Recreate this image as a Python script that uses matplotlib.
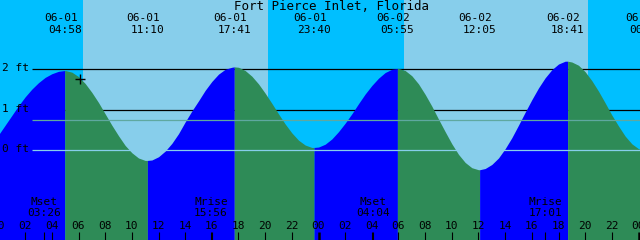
import numpy as np
import matplotlib.pyplot as plt

title = 'Fort Pierce Inlet, Florida'

# high / low tides
event_dates = ['06-01', '06-01', '06-01', '06-01', '06-02', '06-02', '06-02', '06-03']
event_times = ['04:58', '11:10', '17:41', '23:40', '05:55', '12:05', '18:41', '00:34']
event_ft = [1.97, -0.25, 2.06, 0.07, 2.02, -0.48, 2.20, -0.01]

# water level every half hour, from 06-01 00:00
level_series_ft = [
    0.38, 0.62, 0.86, 1.10, 1.32, 1.51, 1.67, 1.80, 1.89, 1.95,
    1.97, 1.93, 1.82, 1.65, 1.43, 1.18, 0.90, 0.62, 0.36, 0.12,
    -0.06, -0.19, -0.25, -0.24, -0.16, -0.02, 0.17, 0.41, 0.70, 0.97,
    1.22, 1.48, 1.70, 1.88, 2.00, 2.05,
    2.05, 1.97, 1.83, 1.64, 1.41, 1.16, 0.90, 0.65, 0.43, 0.25,
    0.13, 0.07, 0.08, 0.15, 0.28, 0.46, 0.67, 0.90, 1.15, 1.39,
    1.60, 1.78, 1.92, 2.00, 2.02, 1.97, 1.84, 1.64, 1.38, 1.09,
    0.77, 0.46, 0.16, -0.10, -0.30, -0.43, -0.48, -0.45, -0.35, -0.19,
    0.04, 0.31, 0.62, 0.94, 1.25, 1.54, 1.79, 1.99, 2.13, 2.20,
    2.18, 2.10, 1.94, 1.72, 1.46, 1.17, 0.87, 0.60, 0.35, 0.16,
    0.04, -0.01]

moon_names = ['Mset', 'Mrise', 'Mset', 'Mrise']
moon_dates = ['06-01', '06-01', '06-02', '06-02']
moon_times = ['03:26', '15:56', '04:04', '17:01']

sunrise = [('06-01', '06:22'), ('06-02', '06:23')]
sunset = [('06-01', '20:14'), ('06-02', '20:14')]

level_ft = [2, 1, 0]
level_labels = ['2 ft', '1 ft', '0 ft']
mean_ft = 0.74

now_time = ('06-01', '06:07')
now_ft = 1.76

NIGHT = '#00BFFF'
DAY = '#87CEEB'
RISE = '#0000FF'
FALL = '#2E8B57'
FONT = 'DejaVu Sans Mono'


def to_hours(d, t):
    hh, mm = t.split(':')
    return (int(d[3:]) - 1) * 24 + int(hh) + int(mm) / 60


x0, x1 = 0.1125, 48.1125
px = (x1 - x0) / 640  # hours per pixel

fig = plt.figure(figsize=(6.4, 2.4), dpi=100, facecolor=NIGHT)
ax = fig.add_axes([0, 0, 1, 1])
ax.axis('off')
ax.set_xlim(x0, x1)
ax.set_ylim(-2.215, 3.711)

# daylight
for (d1, t1), (d2, t2) in zip(sunrise, sunset):
    ax.axvspan(to_hours(d1, t1), to_hours(d2, t2), color=DAY, lw=0, zorder=0)

line_start = x0 + 32 * px
ax.hlines([1, 2], line_start, x1, color='black', lw=0.9, zorder=1)

# tide curve, blue while rising, green while falling
ev_h = [to_hours(d, t) for d, t in zip(event_dates, event_times)]
hrs = [i / 2 for i in range(len(level_series_ft))]
pts = sorted(zip(hrs + ev_h, level_series_ft + event_ft))
th = np.array([p[0] for p in pts])
tf = np.array([p[1] for p in pts])
bounds = [th[0]] + ev_h
for a, b in zip(bounds[:-1], bounds[1:]):
    m = (th >= a) & (th <= b)
    col = RISE if tf[m][-1] > tf[m][0] else FALL
    ax.fill_between(th[m], -3, tf[m], color=col, lw=0, zorder=2)

ax.hlines([mean_ft], line_start, x1, color='#5FA8A0', lw=0.9, zorder=3)
ax.hlines([0], line_start, x1, color=DAY, lw=0.9, zorder=3)

for lv, lab in zip(level_ft, level_labels):
    ax.text(x0 + 2 * px, lv + 0.03, lab, ha='left', va='center',
            family=FONT, fontsize=8, zorder=5)

ax.plot([to_hours(*now_time)], [now_ft], marker='+', color='black',
        ms=7, mew=1, zorder=5)

# top labels
ta = ax.get_xaxis_transform()
for d, t, h in zip(event_dates, event_times, ev_h):
    ax.text(h - 4 * px, 0.927, d, transform=ta, ha='center', va='center',
            family=FONT, fontsize=8, zorder=5)
    ax.text(h, 0.877, t, transform=ta, ha='center', va='center',
            family=FONT, fontsize=8, zorder=5)
fig.text(332 / 640, 0.974, title, ha='center', va='center',
         family=FONT, fontsize=9)

# bottom axis
tick_h = np.arange(0, 50, 2)
for h in tick_h:
    lw = 1.8 if h % 24 == 0 else 0.8
    ax.plot([h, h], [0, 8 / 240], transform=ta, color='black', lw=lw,
            zorder=5, solid_capstyle='butt')
    ax.text(h, 0.06, f'{h % 24:02d}', transform=ta, ha='center',
            va='center', family=FONT, fontsize=8, zorder=5)

for n, d, t in zip(moon_names, moon_dates, moon_times):
    h = to_hours(d, t)
    ax.plot([h, h], [0, 8 / 240], transform=ta, color='black', lw=0.8,
            zorder=5, solid_capstyle='butt')
    ax.text(h, 0.158, n, transform=ta, ha='center', va='center',
            family=FONT, fontsize=8, zorder=5)
    ax.text(h, 0.1125, t, transform=ta, ha='center', va='center',
            family=FONT, fontsize=8, zorder=5)

fig.savefig('out.png', dpi=100, facecolor=NIGHT)
